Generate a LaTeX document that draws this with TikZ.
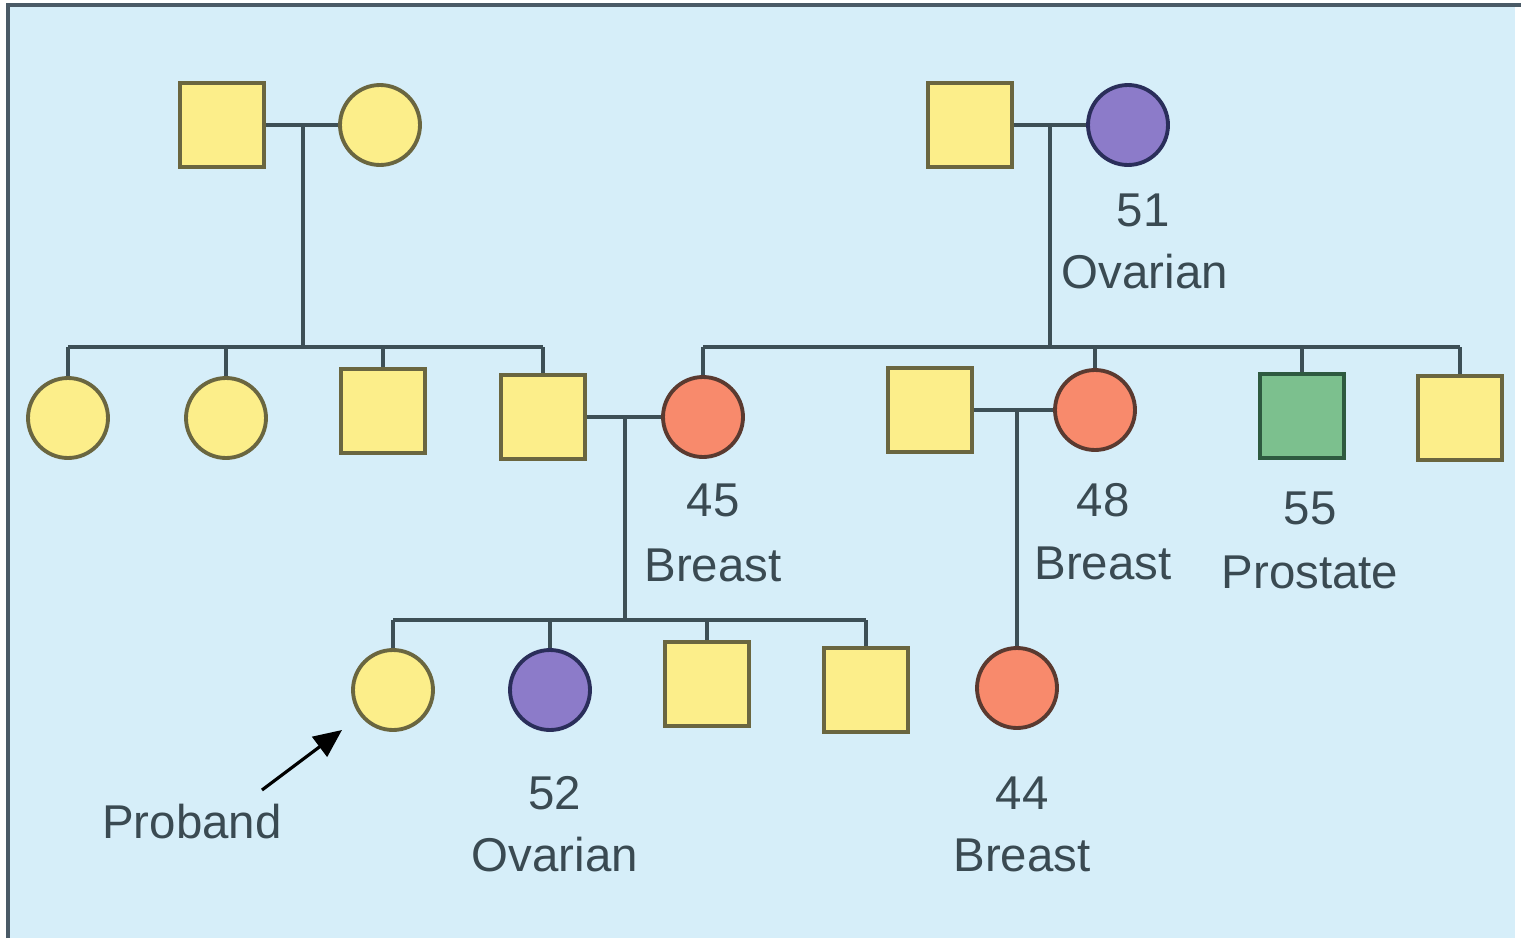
\documentclass[tikz,border=0pt]{standalone}
\usepackage{fontspec}
\setmainfont{Liberation Sans}
\usetikzlibrary{arrows.meta}
\definecolor{bg}{HTML}{D6EEF9}
\definecolor{frame}{HTML}{4A5A66}
\definecolor{ln}{HTML}{3D4F56}
\definecolor{yel}{HTML}{FCEE8A}
\definecolor{yelD}{HTML}{6A6640}
\definecolor{pur}{HTML}{8C7BC9}
\definecolor{purD}{HTML}{2A2E5A}
\definecolor{ora}{HTML}{F88A6C}
\definecolor{oraD}{HTML}{5A3A30}
\definecolor{gre}{HTML}{7CC08E}
\definecolor{greD}{HTML}{2E5A40}
\definecolor{txt}{HTML}{3A4A52}
\tikzset{
  male/.style={draw=yelD,fill=yel,line width=2.2pt,minimum size=1.68cm,inner sep=0pt,rectangle},
  female/.style={draw=yelD,fill=yel,line width=2.2pt,minimum size=1.6cm,inner sep=0pt,circle},
  purf/.style={female,draw=purD,fill=pur},
  oraf/.style={female,draw=oraD,fill=ora},
  grem/.style={male,draw=greD,fill=gre},
  link/.style={draw=ln,line width=2.2pt},
  lab/.style={text=txt,font=\fontsize{27}{30}\selectfont,inner sep=0pt,align=center}
}
\begin{document}
\begin{tikzpicture}[x=0.02cm,y=-0.02cm]
\useasboundingbox (0,0) rectangle (1521,943);
\fill[white] (0,0) rectangle (1521,943);
\fill[bg] (8,5) rectangle (1515,938);
\draw[frame,line width=2.5pt] (8,938) -- (8,5) -- (1521,5);
% generation I
\node[male] (g1a) at (222,125) {};
\node[female] (g1b) at (380,125) {};
\node[male] (g1c) at (970,125) {};
\node[purf] (g1d) at (1128,125) {};
\node[lab] (l51) at (1143,210) {51};
\node[lab] (l51b) at (1145,272) {Ovarian};
\coordinate (m1) at (303,125);
\coordinate (m2) at (1050,125);
\coordinate (s1) at (303,347);
\coordinate (s2) at (1050,347);
% generation II
\node[female] (a1) at (68,418) {};
\node[female] (a2) at (226,418) {};
\node[male] (a3) at (383,411) {};
\node[male] (a4) at (543,417) {};
\node[oraf] (a5) at (703,417) {};
\node[male] (b1) at (930,410) {};
\node[oraf] (b2) at (1095,410) {};
\node[grem] (b3) at (1302,416) {};
\node[male] (b4) at (1460,418) {};
\node[lab] (l45) at (713,500) {45};
\node[lab] (l45b) at (713,565) {Breast};
\node[lab] (l48) at (1103,500) {48};
\node[lab] (l48b) at (1103,563) {Breast};
\node[lab] (l55) at (1310,508) {55};
\node[lab] (l55b) at (1310,572) {Prostate};
\coordinate (m3) at (625,417);
\coordinate (m4) at (1017,410);
\coordinate (s3) at (625,620);
% generation III
\node[female] (c1) at (393,690) {};
\node[purf] (c2) at (550,690) {};
\node[male] (c3) at (707,684) {};
\node[male] (c4) at (866,690) {};
\node[oraf] (c5) at (1017,688) {};
\node[lab] (l52) at (555,793) {52};
\node[lab] (l52b) at (555,855) {Ovarian};
\node[lab] (l44) at (1022,793) {44};
\node[lab] (l44b) at (1022,855) {Breast};
\node[lab] (pro) at (192,822) {Proband};
\coordinate (pa) at (262,790);
\coordinate (pb) at (342,730);
% connectors
\draw[link] (g1a) -- (g1b);
\draw[link] (g1c) -- (g1d);
\draw[link] (m1) -- (s1);
\draw[link] (m2) -- (s2);
\draw[link] (a1.north |- s1) -- (a4.north |- s1);
\foreach \n in {a1,a2,a3,a4} \draw[link] (\n.north |- s1) -- (\n.north);
\draw[link] (a5.north |- s2) -- (b4.north |- s2);
\foreach \n in {a5,b2,b3,b4} \draw[link] (\n.north |- s2) -- (\n.north);
\draw[link] (a4) -- (a5);
\draw[link] (b1) -- (b2);
\draw[link] (m3) -- (s3);
\draw[link] (m4) -- (c5.north);
\draw[link] (c1.north |- s3) -- (c4.north |- s3);
\foreach \n in {c1,c2,c3,c4} \draw[link] (\n.north |- s3) -- (\n.north);
\draw[draw=black,line width=1.8pt,-{Triangle[length=16pt,width=14pt]}] (pa) -- (pb);
\end{tikzpicture}
\end{document}
